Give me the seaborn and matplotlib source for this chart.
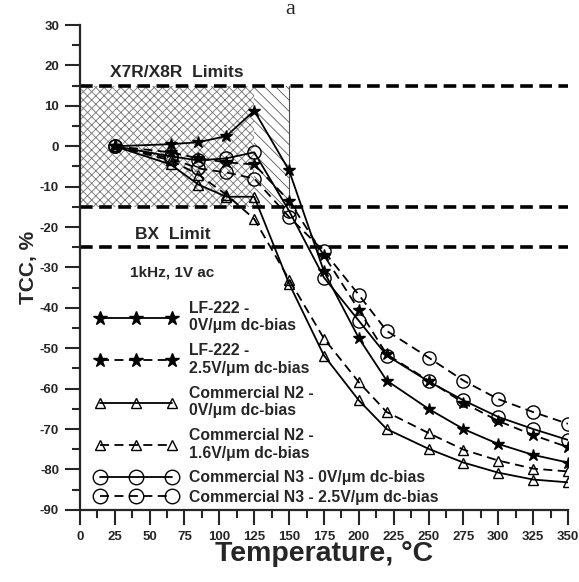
import numpy as np
import pandas as pd
import seaborn as sns
import matplotlib.pyplot as plt
from matplotlib.patches import Rectangle

# temperatures (C) and TCC (%)
temps = [25, 65, 85, 105, 125, 150, 175, 200, 220, 250, 275, 300, 325, 350]
lf222_0v = [0, 0.5, 1, 2.5, 8.8, -6, -31, -47.5, -58, -65, -70, -73.7, -76.4, -78.3]
lf222_25v = [0, -1.5, -3, -4, -4.5, -13.5, -27, -40.5, -51.5, -58, -63.5, -68, -71.5, -74.5]
n2_0v = [0, -4.5, -9.5, -12.5, -12.5, -34, -51.8, -62.9, -70, -74.9, -78.3, -80.8, -82.5, -83.2]
n2_16v = [0, -3.5, -7, -12, -18, -33, -47.6, -58.4, -65.8, -71, -75.1, -77.8, -79.8, -80.5]
n3_0v = [0, -2.5, -3.5, -3, -1.5, -16, -32.5, -43.2, -51.8, -58.2, -62.9, -67, -70, -72.7]
n3_25v = [0, -3, -5.5, -6.5, -8, -17.5, -26, -36.8, -45.7, -52.3, -58, -62.6, -65.8, -68.7]

labels = ["LF-222 -\n0V/\u03bcm dc-bias",
          "LF-222 -\n2.5V/\u03bcm dc-bias",
          "Commercial N2 -\n0V/\u03bcm dc-bias",
          "Commercial N2 -\n1.6V/\u03bcm dc-bias",
          "Commercial N3 - 0V/\u03bcm dc-bias",
          "Commercial N3 - 2.5V/\u03bcm dc-bias"]

# spec limits
x7r_temp = [0, 125]
x8r_temp = [125, 150]
x7r_tcc = [-15, 15]
bx_tcc = -25

sns.set_style("ticks")
plt.rcParams['font.family'] = ['Liberation Sans', 'DejaVu Sans']
plt.rcParams['font.weight'] = 'bold'
plt.rcParams['axes.unicode_minus'] = False
plt.rcParams['hatch.linewidth'] = 0.6

fig = plt.figure(figsize=(5.79, 5.82), dpi=100)
ax = fig.add_axes([0.138, 0.124, 0.843, 0.833])

# hatched spec boxes
ax.add_patch(Rectangle((x7r_temp[0], x7r_tcc[0]), x7r_temp[1] - x7r_temp[0],
                       x7r_tcc[1] - x7r_tcc[0], facecolor='none', edgecolor='0.45',
                       hatch='xxxx', linewidth=0, zorder=0))
ax.add_patch(Rectangle((x8r_temp[0], x7r_tcc[0]), x8r_temp[1] - x8r_temp[0],
                       x7r_tcc[1] - x7r_tcc[0], facecolor='none', edgecolor='0.35',
                       hatch='\\\\\\', linewidth=0, zorder=0))
ax.plot([x8r_temp[1], x8r_temp[1]], x7r_tcc, color='0.3', lw=0.8, zorder=0)

for yv in x7r_tcc + [bx_tcc]:
    ax.axhline(yv, color='k', lw=2.6, linestyle=(0, (3.5, 1.8)), zorder=1)

series = [
    (lf222_0v, '*', '-', 'k', 9),
    (lf222_25v, '*', (0, (5, 3)), 'k', 9),
    (n2_0v, '^', '-', 'none', 7),
    (n2_16v, '^', (0, (5, 3)), 'none', 7),
    (n3_0v, 'o', '-', 'none', 9.5),
    (n3_25v, 'o', (0, (5, 3)), 'none', 9.5),
]
handles = []
for (vals, mk, ls, mfc, ms), lab in zip(series, labels):
    df = pd.DataFrame({'T': temps, 'TCC': vals})
    sns.lineplot(data=df, x='T', y='TCC', ax=ax, color='k', linewidth=1.3,
                 linestyle=ls, marker=mk, markersize=ms, markerfacecolor=mfc,
                 markeredgecolor='k', markeredgewidth=1.0, label=lab)
    handles.append(ax.get_lines()[-1])

ax.set_xlim(0, 350)
ax.set_ylim(-90, 30)
ax.set_xticks(np.arange(0, 351, 25))
ax.set_xticks(np.arange(12.5, 350, 25), minor=True)
ax.set_yticks(np.arange(-90, 31, 10))
ax.set_yticks(np.arange(-85, 30, 10), minor=True)
ax.tick_params(which='major', length=11, width=1.5, labelsize=9.5, pad=4)
ax.tick_params(which='minor', length=6, width=1.5)
for lab in ax.get_xticklabels() + ax.get_yticklabels():
    lab.set_fontweight('bold')
for s in ['top', 'right']:
    ax.spines[s].set_visible(False)
for s in ['left', 'bottom']:
    ax.spines[s].set_linewidth(1.6)

ax.set_xlabel('Temperature, \u00b0C', fontsize=20.5, fontweight='bold', labelpad=-1)
ax.set_ylabel('TCC, %', fontsize=15, fontweight='bold', labelpad=1)

ax.text(21.5, 18.2, 'X7R/X8R  Limits', fontsize=12.5, fontweight='bold', va='center')
ax.text(39.5, -21.9, 'BX  Limit', fontsize=12.5, fontweight='bold', va='center')
ax.text(36, -31.2, '1kHz, 1V ac', fontsize=11, fontweight='bold', va='center')

# two-line entries and one-line entries are spaced differently in the original
leg_kw = dict(loc='upper left', bbox_transform=fig.transFigure, frameon=False,
              numpoints=3, handlelength=5.2, handletextpad=0.8, borderpad=0,
              borderaxespad=0, fontsize=11.3, markerscale=1.1)
leg1 = ax.legend(handles=handles[:4], labels=labels[:4],
                 bbox_to_anchor=(95 / 579, 1 - 301 / 582), labelspacing=0.64, **leg_kw)
ax.add_artist(leg1)
ax.legend(handles=handles[4:], labels=labels[4:],
          bbox_to_anchor=(95 / 579, 1 - 470 / 582), labelspacing=0.3, **leg_kw)

fig.text(290 / 579, 1 - 14 / 582, 'a', family='Liberation Serif', fontweight='normal',
         fontsize=16, ha='center', va='baseline')

fig.savefig('out.png', dpi=100)
